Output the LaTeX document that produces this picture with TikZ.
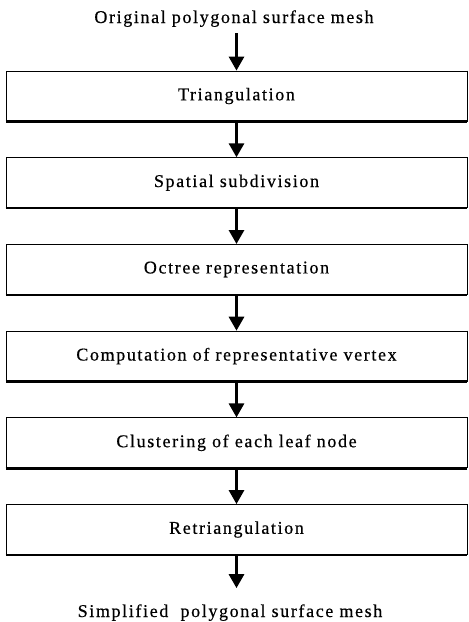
\documentclass[tikz,border=0pt]{standalone}
\usepackage{fontspec}
\setmainfont{Liberation Serif}[LetterSpace=9, FakeBold=0.5]
\usetikzlibrary{arrows.meta}
\begin{document}
\begin{tikzpicture}[x=1pt,y=-1pt,
  txt/.style={font=\fontsize{18}{21}\selectfont},
  box/.style={txt, draw, line width=0.8pt, minimum width=461pt, minimum height=50pt, inner sep=0pt},
  lbl/.style={txt, inner sep=0pt, anchor=base},
  arr/.style={line width=3pt, -{Triangle[width=15pt,length=14pt]}},
  shadowedge/.style={line width=2.6pt},
  sideedge/.style={line width=1.5pt}]
\useasboundingbox (0,0) rectangle (469,622);
\node[lbl] (t) at (234,23) {Original polygonal surface mesh};
\node[box] (b1) at (236.5,96.0) {Triangulation};
\node[box] (b2) at (236.5,182.7) {Spatial subdivision};
\node[box] (b3) at (236.5,269.4) {Octree representation};
\node[box] (b4) at (236.5,356.1) {Computation of representative vertex};
\node[box] (b5) at (236.5,442.8) {Clustering of each leaf node};
\node[box] (b6) at (236.5,529.5) {Retriangulation};
\node[lbl] (f) at (230,617) {Simplified~ polygonal surface mesh};
\foreach \n in {b1,b2,b3,b4,b5,b6}{
  \draw[shadowedge] (\n.south west) -- (\n.south east);
  \draw[sideedge] (\n.north east) -- (\n.south east);
}
\draw[arr, shorten <=6pt] (t.south -| b1.north) -- (b1.north);
\draw[arr] (b1.south) -- (b2.north);
\draw[arr] (b2.south) -- (b3.north);
\draw[arr] (b3.south) -- (b4.north);
\draw[arr] (b4.south) -- (b5.north);
\draw[arr] (b5.south) -- (b6.north);
\draw[arr, shorten >=16pt] (b6.south) -- (f.north -| b6.south);
\end{tikzpicture}
\end{document}
